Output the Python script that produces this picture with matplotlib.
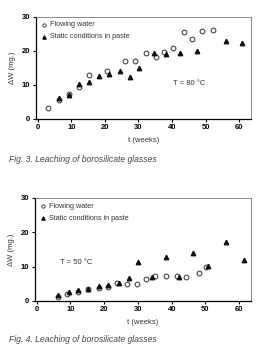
import matplotlib
matplotlib.use("Agg")
import matplotlib.pyplot as plt

plt.rcParams["font.family"] = ["Liberation Sans Narrow", "Liberation Sans", "DejaVu Sans"]

# Fig. 3 -- T = 80 °C
t80_flow = [3.2, 6.2, 9.3, 12.4, 15.2, 20.5, 26.1, 29.1, 32.2, 35.3, 37.6, 40.2, 43.5, 46.0, 48.9, 52.2]
w80_flow = [3.2, 5.6, 7.2, 9.5, 12.9, 14.1, 17.1, 17.1, 19.4, 18.3, 19.7, 20.9, 25.4, 23.4, 25.8, 26.2]
t80_paste = [6.2, 9.3, 12.4, 15.2, 18.3, 21.2, 24.4, 27.4, 30.2, 34.5, 38.2, 42.3, 47.3, 56.1, 60.9]
w80_paste = [6.0, 6.9, 10.2, 10.7, 12.5, 13.3, 14.0, 12.4, 14.8, 19.3, 19.2, 19.4, 19.9, 22.9, 22.2]

# Fig. 4 -- T = 50 °C
t50_flow = [6.2, 8.9, 12.2, 15.3, 18.4, 21.2, 23.9, 26.9, 29.7, 32.3, 35.1, 38.2, 41.6, 44.2, 48.1, 50.2]
w50_flow = [1.1, 2.0, 2.7, 3.4, 3.7, 3.9, 5.1, 4.9, 4.9, 6.3, 7.2, 7.2, 7.2, 7.0, 8.1, 10.0]
t50_paste = [6.2, 9.5, 12.2, 15.3, 18.4, 21.2, 24.3, 27.3, 30.1, 34.3, 38.2, 42.2, 46.2, 50.9, 56.2, 61.3]
w50_paste = [1.8, 2.6, 3.1, 3.4, 4.4, 4.6, 5.1, 6.6, 11.2, 6.9, 12.7, 6.9, 14.0, 10.2, 17.1, 12.0]

CINZA = "#333333"


def painel(ax, tf, wf, tp, wp, rotulo_t, pos_t):
    ax.plot(tf, wf, "o", ms=3.4, mfc="none", mec="#444444", mew=0.8, ls="none")
    ax.plot(tp, wp, "^", ms=3.2, color="#111111", ls="none")
    ax.set_xlim(-0.5, 63.5)
    ax.set_ylim(0, 30)
    ax.set_xticks([0, 10, 20, 30, 40, 50, 60])
    ax.set_yticks([0, 10, 20, 30])
    ax.tick_params(direction="out", length=2.5, width=0.8, labelsize=5.5, pad=1.5)
    for lab in ax.get_xticklabels() + ax.get_yticklabels():
        lab.set_fontweight("bold")
    for lado in ("top", "right"):
        ax.spines[lado].set_color("#777777")
        ax.spines[lado].set_linewidth(0.6)
    for lado in ("left", "bottom"):
        ax.spines[lado].set_linewidth(0.9)
    ax.set_xlabel("t (weeks)", fontsize=5.5, labelpad=4, color=CINZA)
    ax.set_ylabel("ΔW (mg.)", fontsize=5.5, labelpad=4, color=CINZA)
    # legenda desenhada à mão, como no original
    ax.plot([2.0], [27.6], "o", ms=2.4, mfc="none", mec="#444444", mew=0.7, clip_on=False)
    ax.text(3.8, 27.6, "Flowing water", fontsize=5.2, va="center", color=CINZA)
    ax.plot([2.0], [24.1], "^", ms=2.4, color="#111111", clip_on=False)
    ax.text(3.8, 24.1, "Static conditions in paste", fontsize=5.2, va="center", color=CINZA)
    ax.text(pos_t[0], pos_t[1], rotulo_t, fontsize=5.5, ha="center", va="center", color=CINZA)


fig = plt.figure(figsize=(2.69, 3.56), dpi=100)
ax1 = fig.add_axes([0.134, 0.666, 0.799, 0.287])
ax2 = fig.add_axes([0.130, 0.155, 0.803, 0.289])

painel(ax1, t80_flow, w80_flow, t80_paste, w80_paste, "T = 80 °C", (45, 10.3))
painel(ax2, t50_flow, w50_flow, t50_paste, w50_paste, "T = 50 °C", (11.6, 11.1))

fig.text(0.033, 0.551, "Fig. 3. Leaching of borosilicate glasses", fontsize=6.2,
         style="italic", va="center", color="#444444")
fig.text(0.033, 0.045, "Fig. 4. Leaching of borosilicate glasses", fontsize=6.2,
         style="italic", va="center", color="#444444")

fig.savefig("out.png", dpi=100)
